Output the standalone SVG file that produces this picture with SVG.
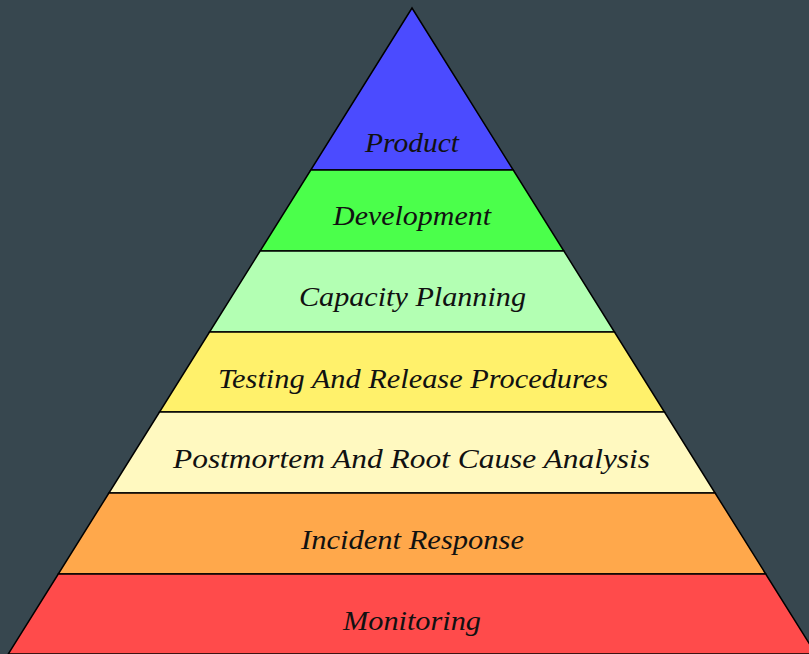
<svg xmlns="http://www.w3.org/2000/svg" width="809" height="654" viewBox="0 0 809 654">
  <style>
    .tier { stroke: #000; stroke-width: 1.5; stroke-linejoin: miter; }
    .label { font-family: "Liberation Serif", "DejaVu Serif", serif; font-style: italic; font-size: 27.5px; fill: #111; text-anchor: middle; }
  </style>
  <rect x="0" y="0" width="809" height="654" fill="#37474f"/>

  <!-- pyramid tiers, apex to base -->
  <g id="tier-product">
    <polygon class="tier" fill="#4b4bff" points="412,8 513.25,170 310.75,170"/>
    <text class="label" x="412" y="152" textLength="94" lengthAdjust="spacingAndGlyphs">Product</text>
  </g>
  <g id="tier-development">
    <polygon class="tier" fill="#4bff4b" points="310.75,170 513.25,170 563.9,251 260.1,251"/>
    <text class="label" x="412" y="225" textLength="158" lengthAdjust="spacingAndGlyphs">Development</text>
  </g>
  <g id="tier-capacity">
    <polygon class="tier" fill="#b3ffb3" points="260.1,251 563.9,251 614.5,332 209.5,332"/>
    <text class="label" x="412.5" y="306" textLength="227" lengthAdjust="spacingAndGlyphs">Capacity Planning</text>
  </g>
  <g id="tier-testing">
    <polygon class="tier" fill="#fff16b" points="209.5,332 614.5,332 664.5,412 159.5,412"/>
    <text class="label" x="413" y="388" textLength="390" lengthAdjust="spacingAndGlyphs">Testing And Release Procedures</text>
  </g>
  <g id="tier-postmortem">
    <polygon class="tier" fill="#fff9c0" points="159.5,412 664.5,412 715.1,493 108.9,493"/>
    <text class="label" x="411.5" y="468" textLength="477" lengthAdjust="spacingAndGlyphs">Postmortem And Root Cause Analysis</text>
  </g>
  <g id="tier-incident">
    <polygon class="tier" fill="#ffa84b" points="108.9,493 715.1,493 765.75,574 58.25,574"/>
    <text class="label" x="412.5" y="549" textLength="223" lengthAdjust="spacingAndGlyphs">Incident Response</text>
  </g>
  <g id="tier-monitoring">
    <polygon class="tier" fill="#ff4b4b" points="58.25,574 765.75,574 815.75,654 8.25,654"/>
    <text class="label" x="412" y="630" textLength="138" lengthAdjust="spacingAndGlyphs">Monitoring</text>
  </g>

  <!-- no connectors in this figure -->
  <g id="connectors"/>
</svg>
